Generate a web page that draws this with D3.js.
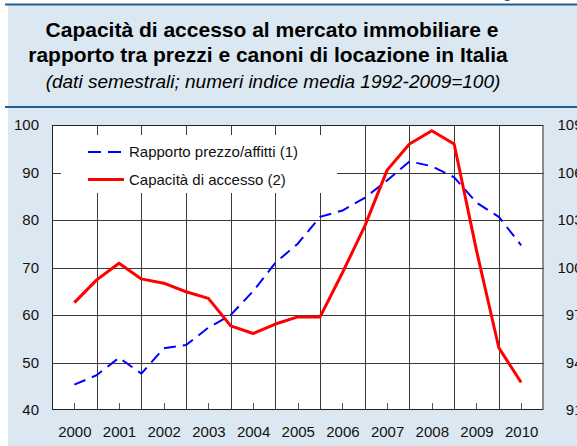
<!DOCTYPE html>
<html>
<head>
<meta charset="utf-8">
<script src="https://cdn.jsdelivr.net/npm/d3@7"></script>
<style>
  body { margin: 0; background: #fff; }
  text { font-family: "Liberation Sans", Arial, Helvetica, sans-serif; }
</style>
</head>
<body>
<div id="viz"></div>
<script>
const width = 577;
const height = 446;
const plot = {left: 52, right: 543.5, top: 125, bottom: 410};

// semestral observations (x position in years)
const periods = [2000, 2000.5, 2001, 2001.5, 2002, 2002.5, 2003, 2003.5, 2004, 2004.5,
  2005, 2005.5, 2006, 2006.5, 2007, 2007.5, 2008, 2008.5, 2009, 2009.5, 2010];
// Rapporto prezzo/affitti (1) - right axis
const rapporto = [92.6, 93.2, 94.3, 93.3, 94.9, 95.1, 96.2, 97.0, 98.5, 100.3,
  101.5, 103.2, 103.6, 104.4, 105.5, 106.7, 106.4, 105.7, 104.1, 103.2, 101.4];
// Capacità di accesso (2) - left axis
const capacita = [62.6, 67.4, 70.9, 67.6, 66.7, 64.9, 63.5, 57.7, 56.1, 58.1,
  59.6, 59.6, 68.9, 78.7, 90.5, 96.0, 98.8, 96.0, 73.6, 53.1, 45.8];

const years = [2000, 2001, 2002, 2003, 2004, 2005, 2006, 2007, 2008, 2009, 2010];
const gridYears = [2000.5, 2001.5, 2002.5, 2003.5, 2004.5, 2005.5, 2006.5, 2007.5, 2008.5, 2009.5];
const leftTicks = [40, 50, 60, 70, 80, 90, 100];
const rightTicks = [91, 94, 97, 100, 103, 106, 109];

const svg = d3.select('#viz')
  .append('svg')
    .attr('width', width)
    .attr('height', height)

// panel background
svg.append('rect')
  .attr('x', 8).attr('y', 5)
  .attr('width', width - 8).attr('height', height - 5)
  .attr('fill', '#dce8f1')
svg.append('rect')
  .attr('x', 5).attr('y', 3.5)
  .attr('width', width - 5).attr('height', 2)
  .attr('fill', '#23608f')
svg.append('rect')
  .attr('x', 5).attr('y', 106)
  .attr('width', width - 5).attr('height', 2)
  .attr('fill', '#23608f')
// clipped glyph from above the frame
svg.append('text')
  .attr('x', 503).attr('y', -2)
  .style('font-size', '14px').style('font-weight', 'bold')
  .attr('fill', '#23608f')
  .text('g')

// titles
const title = svg.append('g').attr('text-anchor', 'middle')
title.append('text')
  .attr('x', 272).attr('y', 37)
  .style('font-size', '21px').style('font-weight', 'bold')
  .text('Capacità di accesso al mercato immobiliare e')
title.append('text')
  .attr('x', 268).attr('y', 62)
  .style('font-size', '21px').style('font-weight', 'bold')
  .text('rapporto tra prezzi e canoni di locazione in Italia')
title.append('text')
  .attr('x', 273).attr('y', 87.5)
  .style('font-size', '19px').style('font-style', 'italic')
  .text('(dati semestrali; numeri indice media 1992-2009=100)')

// scales
const x = d3.scaleLinear().domain([1999.5, 2010.5]).range([plot.left, plot.right]);
const yL = d3.scaleLinear().domain([40, 100]).range([plot.bottom, plot.top]);
const yR = d3.scaleLinear().domain([91, 109]).range([plot.bottom, plot.top]);

// plot area
svg.append('rect')
  .attr('x', plot.left).attr('y', plot.top)
  .attr('width', plot.right - plot.left).attr('height', plot.bottom - plot.top)
  .attr('fill', '#fff')

const grid = svg.append('g').attr('stroke', '#3a3a3a').attr('stroke-width', 1)
grid.selectAll('.hgrid')
  .data(leftTicks.slice(1, -1))
  .join('line')
    .attr('x1', plot.left).attr('x2', plot.right)
    .attr('y1', d => Math.round(yL(d)) + 0.5).attr('y2', d => Math.round(yL(d)) + 0.5)
grid.selectAll('.vgrid')
  .data(gridYears)
  .join('line')
    .attr('x1', d => Math.round(x(d)) + 0.5).attr('x2', d => Math.round(x(d)) + 0.5)
    .attr('y1', plot.top).attr('y2', plot.bottom)
// small year ticks on the bottom
svg.append('g').attr('stroke', '#555')
  .selectAll('line')
  .data(years)
  .join('line')
    .attr('x1', d => Math.round(x(d)) + 0.5).attr('x2', d => Math.round(x(d)) + 0.5)
    .attr('y1', plot.bottom - 7).attr('y2', plot.bottom)

// legend box hides the grid behind it
svg.append('rect')
  .attr('x', 61).attr('y', 135)
  .attr('width', 276).attr('height', 58)
  .attr('fill', '#fff')

// frame
svg.append('rect')
  .attr('x', plot.left + 0.5).attr('y', plot.top + 0.5)
  .attr('width', plot.right - plot.left - 1).attr('height', plot.bottom - plot.top - 1)
  .attr('fill', 'none').attr('stroke', '#222').attr('stroke-width', 1)

// axes labels
const axisL = d3.axisLeft(yL).tickValues(leftTicks).tickSize(0).tickPadding(13)
const axisR = d3.axisRight(yR).tickValues(rightTicks).tickSize(0).tickPadding(14)
const axisB = d3.axisBottom(x).tickValues(years).tickFormat(d3.format('d')).tickSize(0).tickPadding(16)

const gL = svg.append('g').attr('transform', `translate(${plot.left},0)`).call(axisL)
const gR = svg.append('g').attr('transform', `translate(${plot.right},0)`).call(axisR)
const gB = svg.append('g').attr('transform', `translate(0,${plot.bottom})`).call(axisB)
;[gL, gR, gB].forEach(g => {
  g.select('.domain').remove()
  g.selectAll('text')
    .style('font-size', '15px')
    .style('font-family', '"Liberation Sans", Arial, Helvetica, sans-serif')
    .attr('fill', '#111')
})
// right labels are right aligned past the edge of the picture
gR.selectAll('text').attr('text-anchor', 'end').attr('x', 39)

// lines
const lineR = d3.line().x((d, i) => x(periods[i])).y(d => yR(d))
const lineL = d3.line().x((d, i) => x(periods[i])).y(d => yL(d))

svg.append('path')
  .datum(rapporto)
  .attr('d', lineR)
  .attr('fill', 'none')
  .attr('stroke', '#0000ff')
  .attr('stroke-width', 2)
  .attr('stroke-dasharray', '12,7')

svg.append('path')
  .datum(capacita)
  .attr('d', lineL)
  .attr('fill', 'none')
  .attr('stroke', '#ff0000')
  .attr('stroke-width', 3)
  .attr('stroke-linejoin', 'round')

// legend
const legend = [
  {label: 'Rapporto prezzo/affitti (1)', color: '#0000ff', width: 2, dash: '13,7', y: 152},
  {label: 'Capacità di accesso (2)', color: '#ff0000', width: 3, dash: null, y: 179.5}
]
const lg = svg.append('g')
lg.selectAll('line')
  .data(legend)
  .join('line')
    .attr('x1', 88).attr('x2', 124)
    .attr('y1', d => d.y).attr('y2', d => d.y)
    .attr('stroke', d => d.color)
    .attr('stroke-width', d => d.width)
    .attr('stroke-dasharray', d => d.dash)
lg.selectAll('text')
  .data(legend)
  .join('text')
    .attr('x', 129).attr('y', d => d.y)
    .attr('dy', '0.35em')
    .style('font-size', '15px')
    .attr('fill', '#111')
    .text(d => d.label)
</script>
</body>
</html>
